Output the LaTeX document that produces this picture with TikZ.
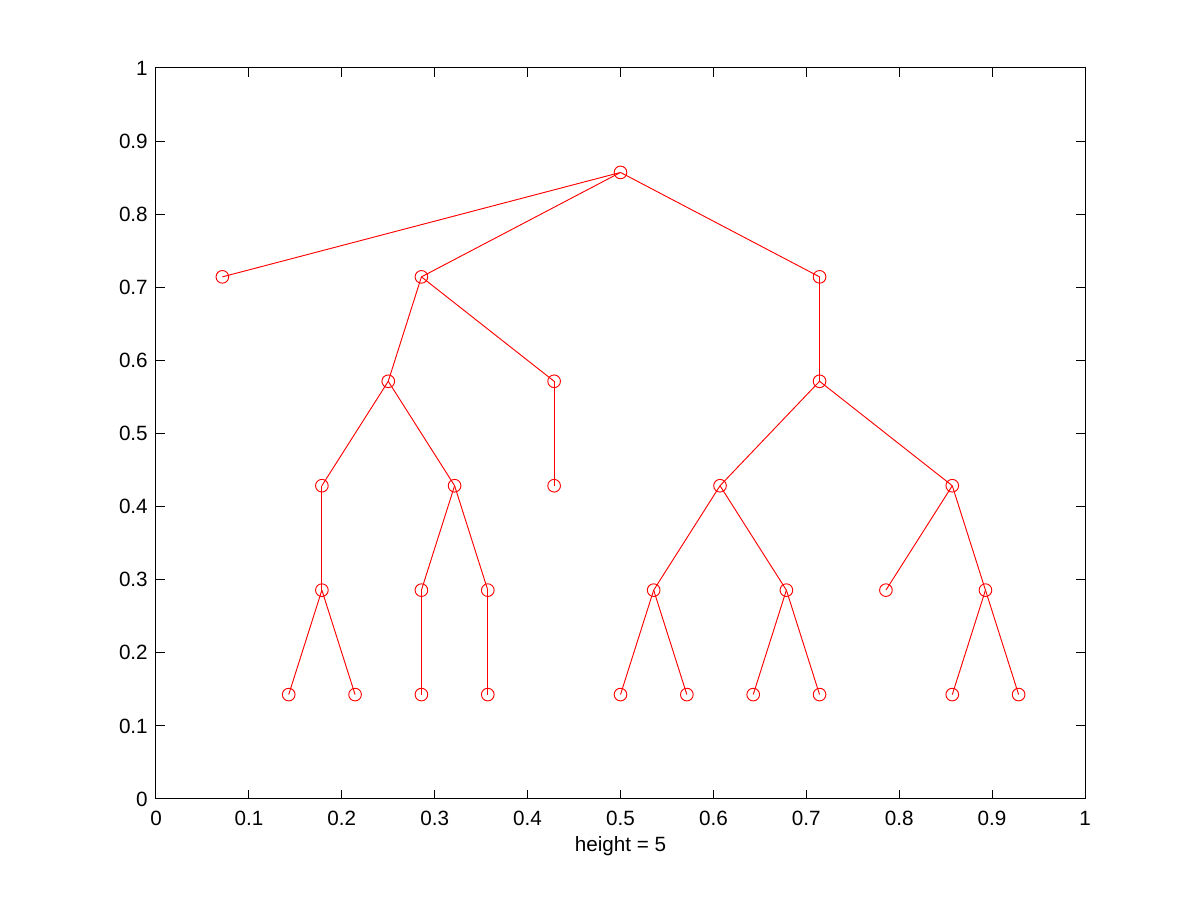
\documentclass[tikz,border=0pt]{standalone}
\usepackage{fontspec}
\setmainfont{Liberation Sans}

\begin{document}
\begin{tikzpicture}[
    x=696.75pt, y=548.25pt,
    font=\fontsize{15.5}{18}\selectfont,
    vertex/.style={circle, draw=red, line width=0.7pt, minimum size=9.5pt, inner sep=0pt},
    edge/.style={red, line width=0.7pt},
    axis/.style={black, line width=0.75pt},
    ticklabel/.style={inner sep=0pt}
]
\useasboundingbox (-0.16792,-0.13817) rectangle (1.12379,1.09302);

% axes box and ticks
\draw[axis] (0,0) rectangle (1,1);
\foreach \t [count=\i] in {0,0.1,0.2,0.3,0.4,0.5,0.6,0.7,0.8,0.9,1} {
    \draw[axis] (\t,0) -- ++(0,6.75pt);
    \draw[axis] (\t,1) -- ++(0,-6.75pt);
    \draw[axis] (0,\t) -- ++(6.75pt,0);
    \draw[axis] (1,\t) -- ++(-6.75pt,0);
    \node[ticklabel, anchor=base] (xl\i) at ([yshift=-20.25pt]\t,0) {\t};
    \node[ticklabel, anchor=east] (yl\i) at ([xshift=-6pt]0,\t) {\t};
}
\node[ticklabel, anchor=base] (xlabel) at ([yshift=-39.75pt]0.5,0) {height = 5};

% tree nodes
\node[vertex] (root)  at ({7/14},{6/7}) {};
\node[vertex] (l1)    at ({1/14},{5/7}) {};
\node[vertex] (a)     at ({4/14},{5/7}) {};
\node[vertex] (b)     at ({10/14},{5/7}) {};
\node[vertex] (a1)    at ({3.5/14},{4/7}) {};
\node[vertex] (a2)    at ({6/14},{4/7}) {};
\node[vertex] (a11)   at ({2.5/14},{3/7}) {};
\node[vertex] (a12)   at ({4.5/14},{3/7}) {};
\node[vertex] (a21)   at ({6/14},{3/7}) {};
\node[vertex] (a111)  at ({2.5/14},{2/7}) {};
\node[vertex] (a121)  at ({4/14},{2/7}) {};
\node[vertex] (a122)  at ({5/14},{2/7}) {};
\node[vertex] (a1111) at ({2/14},{1/7}) {};
\node[vertex] (a1112) at ({3/14},{1/7}) {};
\node[vertex] (a1211) at ({4/14},{1/7}) {};
\node[vertex] (a1221) at ({5/14},{1/7}) {};
\node[vertex] (b1)    at ({10/14},{4/7}) {};
\node[vertex] (b11)   at ({8.5/14},{3/7}) {};
\node[vertex] (b12)   at ({12/14},{3/7}) {};
\node[vertex] (b111)  at ({7.5/14},{2/7}) {};
\node[vertex] (b112)  at ({9.5/14},{2/7}) {};
\node[vertex] (b121)  at ({11/14},{2/7}) {};
\node[vertex] (b122)  at ({12.5/14},{2/7}) {};
\node[vertex] (b1111) at ({7/14},{1/7}) {};
\node[vertex] (b1112) at ({8/14},{1/7}) {};
\node[vertex] (b1121) at ({9/14},{1/7}) {};
\node[vertex] (b1122) at ({10/14},{1/7}) {};
\node[vertex] (b1221) at ({12/14},{1/7}) {};
\node[vertex] (b1222) at ({13/14},{1/7}) {};

% tree edges
\foreach \u/\v in {root/l1, root/a, root/b, a/a1, a/a2, a1/a11, a1/a12, a2/a21,
    a11/a111, a111/a1111, a111/a1112, a12/a121, a12/a122, a121/a1211, a122/a1221,
    b/b1, b1/b11, b1/b12, b11/b111, b11/b112, b111/b1111, b111/b1112,
    b112/b1121, b112/b1122, b12/b121, b12/b122, b122/b1221, b122/b1222}
    \draw[edge] (\u.center) -- (\v.center);

\end{tikzpicture}
\end{document}
